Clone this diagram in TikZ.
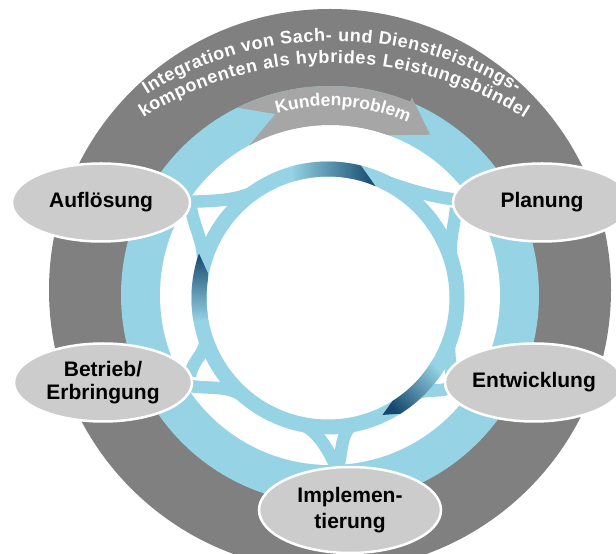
\documentclass[tikz,border=0pt]{standalone}
\usepackage{fontspec}
\setmainfont{Liberation Sans}
\usetikzlibrary{shapes.geometric,decorations.text,calc}
\definecolor{ringgray}{HTML}{808080}
\definecolor{arrowgray}{HTML}{A6A6A6}
\definecolor{lblue}{HTML}{96D3E5}
\definecolor{dblue}{HTML}{16486E}
\definecolor{ellgray}{HTML}{CCCCCC}
\begin{document}
\begin{tikzpicture}[x=1pt,y=1pt,
  ell/.style={ellipse, fill=ellgray, draw=white, line width=2.5pt, inner sep=0pt,
    minimum width=178pt, minimum height=78pt, align=center,
    font=\bfseries\fontsize{21}{22.5}\selectfont},
  conn/.style={draw=lblue, line width=12.5pt},
  ringtext/.style={decorate, decoration={text along path, text align=fit to path, text color=white}}
]
\useasboundingbox (0,0) rectangle (616,554);
\clip (0,0) rectangle (616,554);
\coordinate (G) at (330,264);
\coordinate (B) at (330,259);
\coordinate (Cr) at (328,256);
% outer gray ring and blue ring
\fill[ringgray] (G) circle (281);
\fill[lblue] (B) circle (209);
\fill[white] (B) circle (170);
% gray arrow "Kundenproblem"
\begin{scope}[shift={(B)}]
\fill[arrowgray] (116.3:209) arc[start angle=116.3, end angle=67.5, radius=209]
  -- (67.5:214) -- (58:189) -- (70:170)
  arc[start angle=70, end angle=118.3, radius=170] -- (106.8:189) -- cycle;
\path[decorate, decoration={text along path, text align=center, text color=white,
  text={|\bfseries\fontsize{17.5}{17.5}\selectfont|Kundenproblem}}]
  (107.5:189) arc[start angle=107.5, end angle=64.5, radius=189];
\end{scope}
% text on the gray ring
\path[ringtext, decoration={text={|\bfseries\fontsize{18}{18}\selectfont|Integration von Sach- und Dienstleistungs-}}]
  ($(333,162)+(122:351)$) arc[start angle=122, end angle=58.5, radius=351];
\path[ringtext, decoration={text={|\bfseries\fontsize{18}{18}\selectfont|komponenten als hybrides Leistungsbündel}}]
  ($(333,133)+(122:358)$) arc[start angle=122, end angle=57.7, radius=358];
% inner ring
\draw[lblue, line width=15pt] (Cr) circle (129);
\begin{scope}[shift={(Cr)}]
\coordinate (a1) at (122:129);
\coordinate (a2) at (168:129);
\coordinate (p1) at (70:129);
\coordinate (p2) at (15:129);
\coordinate (e1) at (-18:129);
\coordinate (e2) at (-50:129);
\coordinate (b1) at (196:129);
\coordinate (b2) at (232:129);
\coordinate (i1) at (257:129);
\coordinate (i2) at (283:129);
\end{scope}
% connectors from the ring to the phases
\draw[conn] (186,352) .. controls +(3:25) and +(212:25) .. (a1);
\draw[conn] (191,346) .. controls +(-80:25) and +(78:25) .. (a2);
\draw[conn] (460,354) .. controls +(175:30) and +(-20:30) .. (p1);
\draw[conn] (456,346) .. controls +(-95:20) and +(105:20) .. (p2);
\draw[conn] (452,176) .. controls +(95:12) and +(-108:12) .. (e1);
\draw[conn] (450,166) .. controls +(200:15) and +(40:15) .. (e2);
\draw[conn] (190,178) .. controls +(80:20) and +(-74:20) .. (b1);
\draw[conn] (190,168) .. controls +(-8:25) and +(142:25) .. (b2);
\draw[conn] (337,84) .. controls +(110:18) and +(-13:18) .. (i1);
\draw[conn] (337,84) .. controls +(70:18) and +(193:18) .. (i2);
\draw[conn] (337,84) -- (337,68);
% dark gradient pieces on the inner ring
\begin{scope}[shift={(Cr)}]
\shade[left color=lblue, right color=dblue] (106:136.5) arc[start angle=106, end angle=76, radius=136.5]
  -- (67:121.5) arc[start angle=67, end angle=106, radius=121.5] -- cycle;
\shade[top color=dblue, bottom color=lblue] (190:136.5) arc[start angle=190, end angle=161, radius=136.5]
  -- (169:121.5) arc[start angle=169, end angle=190, radius=121.5] -- cycle;
\shade[top color=lblue, bottom color=dblue, shading angle=-48] (330:136.5) arc[start angle=330, end angle=302, radius=136.5]
  -- (295:129) -- (302:121.5) arc[start angle=302, end angle=330, radius=121.5] -- cycle;
\end{scope}
% phases
\node[ell] (aufl) at (101,351.5) {Auflösung};
\node[ell] (plan) at (542,351.5) {Planung};
\node[ell] (entw) at (534,171.5) {Entwicklung};
\node[ell] (betr) at (103,171.5) {Betrieb/\\Erbringung};
\node[ell, minimum width=182pt, minimum height=86pt, font=\bfseries\fontsize{21}{26.5}\selectfont] (impl) at (350,44) {Implemen-\\tierung};
\end{tikzpicture}
\end{document}
